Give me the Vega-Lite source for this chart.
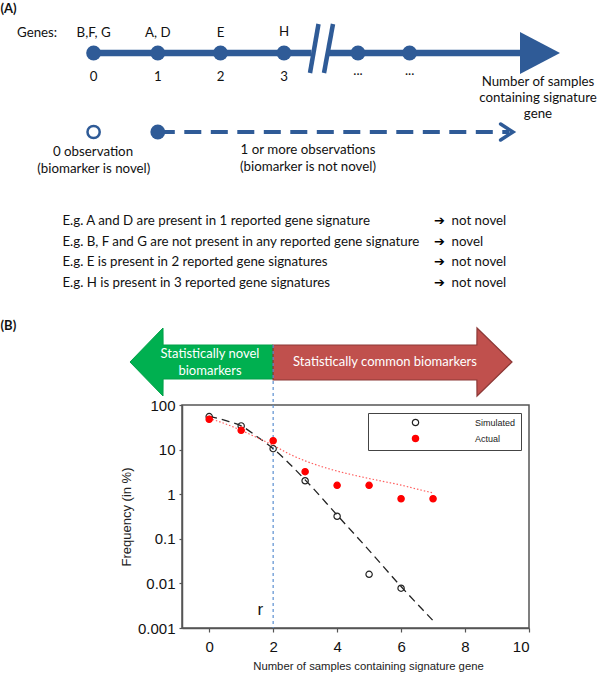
{
  "$schema": "https://vega.github.io/schema/vega-lite/v6.json",
  "width": 347,
  "height": 223,
  "padding": {"top": 2, "left": 0, "right": 0, "bottom": 0},
  "background": "white",
  "config": {
    "view": {"stroke": "#555", "strokeWidth": 1.5},
    "font": "Liberation Sans"
  },
  "datasets": {
    "numLine": [{"x": 9.36, "y": 5.3, "x2": 31.15, "y2": 5.3}, {"x": 32.7, "y": 5.3, "x2": 52.2, "y2": 5.3}],
    "slashes": [{"x": 31.0, "y": 7.3, "x2": 31.85, "y2": 2.4}, {"x": 32.4, "y": 7.3, "x2": 33.3, "y2": 2.4}],
    "bigHead": [{"x": 52.0, "y": 3.2, "y2": 7.4}, {"x": 56.0, "y": 5.3, "y2": 5.3}],
    "dots": [{"x": 9.36, "y": 5.3}, {"x": 15.78, "y": 5.3}, {"x": 22.05, "y": 5.3}, {"x": 28.4, "y": 5.3}, {"x": 35.8, "y": 5.3}, {"x": 40.96, "y": 5.3}, {"x": 15.78, "y": 13.2}],
    "openDot": [{"x": 9.36, "y": 13.2}],
    "dashLine": [{"x": 15.78, "x2": 50.9, "y": 13.2, "y2": 13.2}],
    "chevron": [{"x": 50.06, "y": 12.4, "o": 1}, {"x": 51.3, "y": 13.2, "o": 2}, {"x": 50.06, "y": 14.0, "o": 3}],
    "greenArrow": [{"x": 13.0, "y": 36.2, "y2": 36.2}, {"x": 16.3, "y": 32.8, "y2": 39.6}, {"x": 16.31, "y": 34.5, "y2": 37.9}, {"x": 27.315, "y": 34.5, "y2": 37.9}],
    "redArrow": [{"x": 27.315, "y": 34.5, "y2": 38.0}, {"x": 47.69, "y": 34.5, "y2": 38.0}, {"x": 47.7, "y": 32.8, "y2": 39.6}, {"x": 51.2, "y": 36.2, "y2": 36.2}],
    "rLine": [{"x": 27.315, "y": 34.5, "y2": 62.8}],
    "bold": [{"x": 0.05, "y": 0.85, "label": "(A)"}, {"x": 0.05, "y": 32.6, "label": "(B)"}],
    "leftBig": [{"x": 1.7, "y": 3.3, "label": "Genes:"}],
    "leftSmall": [
      {"x": 6.24, "y": 22.1, "label": "E.g. A and D are present in 1 reported gene signature"},
      {"x": 6.24, "y": 24.17, "label": "E.g. B, F and G are not present in any reported gene signature"},
      {"x": 6.24, "y": 26.23, "label": "E.g. E is present in 2 reported gene signatures"},
      {"x": 6.24, "y": 28.27, "label": "E.g. H is present in 3 reported gene signatures"},
      {"x": 45.16, "y": 22.1, "label": "not novel"},
      {"x": 45.16, "y": 24.17, "label": "novel"},
      {"x": 45.16, "y": 26.23, "label": "not novel"},
      {"x": 45.16, "y": 28.27, "label": "not novel"}
    ],
    "arrows": [{"x": 43.4, "y": 22.1, "label": "➔"}, {"x": 43.4, "y": 24.17, "label": "➔"}, {"x": 43.4, "y": 26.23, "label": "➔"}, {"x": 43.4, "y": 28.27, "label": "➔"}],
    "center": [
      {"x": 9.36, "y": 3.3, "label": "B,F, G"}, {"x": 15.78, "y": 3.3, "label": "A, D"}, {"x": 22.05, "y": 3.3, "label": "E"}, {"x": 28.4, "y": 3.2, "label": "H"},
      {"x": 9.36, "y": 7.7, "label": "0"}, {"x": 15.78, "y": 7.7, "label": "1"}, {"x": 22.05, "y": 7.7, "label": "2"}, {"x": 28.4, "y": 7.7, "label": "3"},
      {"x": 35.8, "y": 7.1, "label": "..."}, {"x": 40.96, "y": 7.1, "label": "..."},
      {"x": 53.8, "y": 8.2, "label": "Number of samples"}, {"x": 53.8, "y": 9.8, "label": "containing signature"}, {"x": 53.8, "y": 11.4, "label": "gene"},
      {"x": 9.3, "y": 15.17, "label": "0 observation"}, {"x": 9.38, "y": 16.9, "label": "(biomarker is novel)"},
      {"x": 30.8, "y": 15.0, "label": "1 or more observations"}, {"x": 30.8, "y": 16.7, "label": "(biomarker is not novel)"}
    ],
    "white": [{"x": 21.0, "y": 35.4, "label": "Statistically novel"}, {"x": 21.0, "y": 37.1, "label": "biomarkers"}, {"x": 38.5, "y": 36.2, "label": "Statistically common biomarkers"}],
    "fitSim": [{"n": 0, "freq": 56}, {"n": 0.5, "freq": 45}, {"n": 1, "freq": 34}, {"n": 1.5, "freq": 19.5}, {"n": 2, "freq": 10.5}, {"n": 3, "freq": 2.1}, {"n": 4, "freq": 0.34}, {"n": 5, "freq": 0.055}, {"n": 6, "freq": 0.0085}, {"n": 7, "freq": 0.00146}],
    "fitAct": [{"n": 0, "freq": 50}, {"n": 0.5, "freq": 38}, {"n": 1, "freq": 27}, {"n": 1.5, "freq": 18.5}, {"n": 2, "freq": 12.5}, {"n": 2.5, "freq": 8}, {"n": 3, "freq": 5.6}, {"n": 3.5, "freq": 4.2}, {"n": 4, "freq": 3.3}, {"n": 4.5, "freq": 2.7}, {"n": 5, "freq": 2.25}, {"n": 5.5, "freq": 1.9}, {"n": 6, "freq": 1.6}, {"n": 6.5, "freq": 1.3}, {"n": 7, "freq": 1.07}],
    "points": [
      {"n": 0, "freq": 55, "series": "Simulated"}, {"n": 1, "freq": 34, "series": "Simulated"}, {"n": 2, "freq": 10.5, "series": "Simulated"}, {"n": 3, "freq": 2.0, "series": "Simulated"}, {"n": 4, "freq": 0.32, "series": "Simulated"}, {"n": 5, "freq": 0.016, "series": "Simulated"}, {"n": 6, "freq": 0.0078, "series": "Simulated"},
      {"n": 0, "freq": 48, "series": "Actual"}, {"n": 1, "freq": 27, "series": "Actual"}, {"n": 2, "freq": 15.8, "series": "Actual"}, {"n": 3, "freq": 3.2, "series": "Actual"}, {"n": 4, "freq": 1.58, "series": "Actual"}, {"n": 5, "freq": 1.58, "series": "Actual"}, {"n": 6, "freq": 0.79, "series": "Actual"}, {"n": 7, "freq": 0.79, "series": "Actual"}
    ],
    "rLabel": [{"n": 1.6, "freq": 0.0025, "label": "r"}]
  },
  "layer": [
    {
      "encoding": {
        "x": {"field": "x", "type": "quantitative", "scale": {"domain": [18.2, 52.9], "nice": false, "zero": false}, "axis": null},
        "y": {"field": "y", "type": "quantitative", "scale": {"domain": [40.5, 62.8], "nice": false, "zero": false, "reverse": true}, "axis": null}
      },
      "layer": [
        {"data": {"name": "numLine"}, "mark": {"type": "rule", "color": "#2F5B97", "strokeWidth": 6.5}, "encoding": {"x2": {"field": "x2"}, "y2": {"field": "y2"}}},
        {"data": {"name": "slashes"}, "mark": {"type": "rule", "color": "#2F5B97", "strokeWidth": 4.5}, "encoding": {"x2": {"field": "x2"}, "y2": {"field": "y2"}}},
        {"data": {"name": "bigHead"}, "mark": {"type": "area", "orient": "vertical", "color": "#2F5B97", "opacity": 1}, "encoding": {"y2": {"field": "y2"}}},
        {"data": {"name": "dashLine"}, "mark": {"type": "rule", "color": "#2F5B97", "strokeWidth": 4, "strokeDash": [17, 9.5]}, "encoding": {"x2": {"field": "x2"}, "y2": {"field": "y2"}}},
        {"data": {"name": "chevron"}, "mark": {"type": "line", "color": "#2F5B97", "strokeWidth": 3.5, "strokeCap": "round"}, "encoding": {"order": {"field": "o", "type": "quantitative"}}},
        {"data": {"name": "dots"}, "mark": {"type": "point", "shape": "circle", "filled": true, "opacity": 1, "color": "#2F5B97", "size": 220}, "encoding": {}},
        {"data": {"name": "openDot"}, "mark": {"type": "point", "shape": "circle", "filled": false, "opacity": 1, "stroke": "#2F5B97", "fill": "white", "strokeWidth": 2.5, "size": 150}, "encoding": {}},
        {"data": {"name": "greenArrow"}, "mark": {"type": "area", "orient": "vertical", "color": "#00B050", "opacity": 1, "stroke": "#00A048", "strokeWidth": 1}, "encoding": {"y2": {"field": "y2"}}},
        {"data": {"name": "redArrow"}, "mark": {"type": "area", "orient": "vertical", "color": "#C0504D", "opacity": 1, "stroke": "#8C3836", "strokeWidth": 1.2}, "encoding": {"y2": {"field": "y2"}}},
        {"data": {"name": "rLine"}, "mark": {"type": "rule", "color": "#5B8FD0", "strokeWidth": 1.2, "strokeDash": [3, 3]}, "encoding": {"y2": {"field": "y2"}}},
        {"data": {"name": "bold"}, "mark": {"type": "text", "align": "left", "baseline": "middle", "font": "Lato", "fontWeight": "bold", "fontSize": 13, "color": "#111"}, "encoding": {"text": {"field": "label"}}},
        {"data": {"name": "leftBig"}, "mark": {"type": "text", "align": "left", "baseline": "middle", "font": "Lato", "fontSize": 13.3, "color": "#111"}, "encoding": {"text": {"field": "label"}}},
        {"data": {"name": "leftSmall"}, "mark": {"type": "text", "align": "left", "baseline": "middle", "font": "Lato", "fontSize": 13.3, "color": "#111"}, "encoding": {"text": {"field": "label"}}},
        {"data": {"name": "arrows"}, "mark": {"type": "text", "align": "left", "baseline": "middle", "font": "DejaVu Sans", "fontWeight": "bold", "fontSize": 13, "color": "#000"}, "encoding": {"text": {"field": "label"}}},
        {"data": {"name": "center"}, "mark": {"type": "text", "align": "center", "baseline": "middle", "font": "Lato", "fontSize": 13.3, "color": "#111"}, "encoding": {"text": {"field": "label"}}},
        {"data": {"name": "white"}, "mark": {"type": "text", "align": "center", "baseline": "middle", "font": "Lato", "fontSize": 13, "color": "white"}, "encoding": {"text": {"field": "label"}}}
      ]
    },
    {
      "encoding": {
        "x": {"field": "n", "type": "quantitative", "scale": {"domain": [-0.85, 10], "nice": false, "zero": false},
          "axis": {"values": [0, 2, 4, 6, 8, 10], "title": "Number of samples containing signature gene", "titleFont": "Liberation Sans", "titleFontSize": 11.3, "titleFontWeight": "normal", "titleColor": "#222", "titlePadding": 6, "titleX": 186, "labelFont": "Liberation Sans", "labelFontSize": 15, "labelColor": "#111", "labelPadding": 7, "tickSize": 4, "tickColor": "#555", "tickWidth": 1.2, "domainColor": "#555", "domainWidth": 1.5, "grid": false}},
        "y": {"field": "freq", "type": "quantitative", "scale": {"type": "log", "domain": [0.001, 100], "nice": false},
          "axis": {"values": [0.001, 0.01, 0.1, 1, 10, 100], "format": "~g", "title": "Frequency (in %)", "titleFont": "Liberation Sans", "titleFontSize": 13, "titleFontWeight": "normal", "titleColor": "#222", "titlePadding": 4, "labelFont": "Liberation Sans", "labelFontSize": 15, "labelColor": "#111", "labelPadding": 4, "tickSize": 3, "tickColor": "#555", "tickWidth": 1.2, "domainColor": "#555", "domainWidth": 1.5, "grid": false}}
      },
      "layer": [
        {"data": {"name": "fitSim"}, "mark": {"type": "line", "color": "#222", "strokeWidth": 1.3, "strokeDash": [8, 5], "interpolate": "monotone"}, "encoding": {}},
        {"data": {"name": "fitAct"}, "mark": {"type": "line", "color": "#FF6060", "strokeWidth": 1.2, "strokeDash": [1.5, 2], "interpolate": "monotone"}, "encoding": {}},
        {"data": {"name": "points"}, "mark": {"type": "point", "shape": "circle", "size": 40, "strokeWidth": 1.2, "opacity": 1},
          "encoding": {
            "fill": {"field": "series", "type": "nominal", "scale": {"domain": ["Simulated", "Actual"], "range": ["transparent", "#FF0000"]},
              "legend": {"title": null, "orient": "top-right", "offset": 8, "strokeColor": "#444", "fillColor": "white", "padding": 5, "symbolOffset": 38, "labelOffset": 55, "labelFont": "Liberation Sans", "labelFontSize": 9, "labelColor": "#222", "symbolSize": 40, "rowPadding": 3, "symbolStrokeWidth": 1.2}},
            "stroke": {"field": "series", "type": "nominal", "scale": {"domain": ["Simulated", "Actual"], "range": ["#222", "#FF0000"]},
              "legend": {"title": null, "orient": "top-right", "offset": 8, "strokeColor": "#444", "fillColor": "white", "padding": 5, "symbolOffset": 38, "labelOffset": 55, "labelFont": "Liberation Sans", "labelFontSize": 9, "labelColor": "#222", "symbolSize": 40, "rowPadding": 3, "symbolStrokeWidth": 1.2}}
          }},
        {"data": {"name": "rLabel"}, "mark": {"type": "text", "font": "Liberation Sans", "fontSize": 17, "color": "#111", "baseline": "middle"}, "encoding": {"text": {"field": "label"}}}
      ]
    }
  ],
  "resolve": {"scale": {"x": "independent", "y": "independent"}, "axis": {"x": "independent", "y": "independent"}}
}
